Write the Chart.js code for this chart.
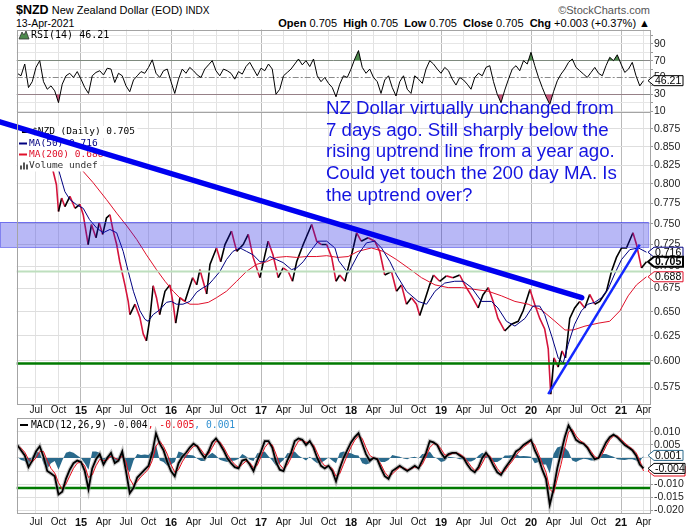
<!DOCTYPE html>
<html>
<head>
<meta charset="utf-8">
<script src="https://cdn.jsdelivr.net/npm/chart.js@4.4.0/dist/chart.umd.min.js"></script>
<style>
  body { margin: 0; background: #fff; width: 700px; height: 530px; position: relative; overflow: hidden;
         font-family: "Liberation Sans", Arial, sans-serif; }
  canvas { position: absolute; left: 0; top: 0; }
  .hdr { position: absolute; white-space: nowrap; color: #000; line-height: 14px; }
  #note { position: absolute; left: 326px; top: 97px; font-size: 18.7px; line-height: 21.7px;
          color: #1414e0; white-space: nowrap; }
</style>
</head>
<body>
<div class="hdr" style="left:16px;top:3px;font-size:11px"><b style="font-size:12.5px">$NZD</b> New Zealand Dollar (EOD) <span style="font-size:10px">INDX</span></div>
<div class="hdr" style="left:16px;top:16px;font-size:10.5px">13-Apr-2021</div>
<div class="hdr" style="right:50px;top:3px;font-size:11px;color:#555">&copy;StockCharts.com</div>
<div class="hdr" style="right:50px;top:16px;font-size:11px"><b>Open</b> 0.705&nbsp; <b>High</b> 0.705&nbsp; <b>Low</b> 0.705&nbsp; <b>Close</b> 0.705&nbsp; <b>Chg</b> +0.003 (+0.37%) &#9650;</div>

<canvas id="rsiChart" width="700" height="530"></canvas>
<canvas id="priceChart" width="700" height="530"></canvas>
<canvas id="macdChart" width="700" height="530"></canvas>

<div id="note"></div>

<script>
// ---------- data ----------
const priceDates = ['2014-04-17','2014-05-15','2014-06-15','2014-07-20','2014-08-15','2014-09-08','2014-09-23','2014-10-01','2014-10-14','2014-10-27',
  '2014-11-17','2014-12-07','2014-12-27','2015-01-10','2015-01-30','2015-02-13','2015-03-01','2015-03-14','2015-03-28','2015-04-13',
  '2015-04-27','2015-05-10','2015-05-24','2015-06-06','2015-06-27','2015-07-10','2015-07-17','2015-08-07','2015-08-27','2015-09-10',
  '2015-09-23','2015-10-07','2015-10-20','2015-11-03','2015-11-16','2015-12-07','2015-12-27','2016-01-10','2016-01-20','2016-02-07',
  '2016-02-27','2016-03-10','2016-03-28','2016-04-14','2016-04-27','2016-05-24','2016-06-07','2016-07-03','2016-07-20','2016-08-07',
  '2016-09-03','2016-09-24','2016-10-20','2016-11-10','2016-11-30','2016-12-27','2017-01-17','2017-01-30','2017-02-19','2017-03-10',
  '2017-03-30','2017-04-20','2017-05-07','2017-05-24','2017-06-20','2017-07-24','2017-08-14','2017-09-03','2017-09-24','2017-10-14',
  '2017-11-01','2017-11-16','2017-12-07','2017-12-20','2018-01-10','2018-01-24','2018-02-12','2018-03-09','2018-04-06','2018-04-26',
  '2018-05-16','2018-06-13','2018-07-03','2018-07-23','2018-08-13','2018-09-03','2018-09-23','2018-10-06','2018-10-26','2018-11-16',
  '2018-12-01','2018-12-26','2019-01-23','2019-02-19','2019-03-16','2019-04-06','2019-05-03','2019-05-30','2019-06-19','2019-07-10',
  '2019-07-30','2019-08-19','2019-09-16','2019-10-13','2019-11-10','2019-11-30','2019-12-27','2020-01-16','2020-02-06','2020-02-26',
  '2020-03-10','2020-03-20','2020-04-03','2020-04-20','2020-05-05','2020-05-19','2020-06-06','2020-06-26','2020-07-16','2020-08-06',
  '2020-08-26','2020-09-16','2020-10-06','2020-11-03','2020-11-23','2020-12-13','2021-01-03','2021-01-23','2021-02-19','2021-03-03',
  '2021-03-23','2021-04-13'];
const priceValues = [0.862,0.858,0.868,0.878,0.840,0.819,0.799,0.765,0.782,0.771,
  0.784,0.769,0.774,0.761,0.725,0.749,0.733,0.751,0.737,0.757,
  0.761,0.741,0.725,0.705,0.679,0.661,0.647,0.658,0.644,0.627,
  0.620,0.644,0.678,0.665,0.647,0.672,0.679,0.658,0.638,0.665,
  0.661,0.672,0.687,0.679,0.696,0.669,0.702,0.721,0.705,0.725,
  0.741,0.717,0.725,0.737,0.710,0.687,0.713,0.729,0.713,0.687,
  0.698,0.694,0.683,0.705,0.725,0.749,0.729,0.725,0.725,0.710,
  0.683,0.690,0.683,0.698,0.721,0.739,0.729,0.733,0.729,0.717,
  0.690,0.694,0.672,0.679,0.658,0.665,0.658,0.646,0.662,0.679,
  0.690,0.683,0.689,0.687,0.690,0.679,0.667,0.654,0.668,0.676,
  0.661,0.643,0.630,0.637,0.640,0.651,0.674,0.658,0.643,0.632,
  0.612,0.5685,0.603,0.594,0.610,0.603,0.643,0.654,0.661,0.654,
  0.6685,0.658,0.661,0.672,0.694,0.710,0.721,0.721,0.739,0.725,
  0.698,0.705];

const ma50Dates = ['2014-06-20','2014-08-20','2014-09-15','2014-10-01','2014-10-27','2014-11-17','2014-12-13','2015-01-10','2015-02-05','2015-03-03',
  '2015-03-30','2015-04-27','2015-05-24','2015-06-20','2015-07-10','2015-07-31','2015-08-27','2015-09-17','2015-09-30','2015-10-20',
  '2015-11-16','2015-12-13','2016-01-03','2016-01-23','2016-02-19','2016-03-17','2016-04-14','2016-05-10','2016-05-31','2016-06-20',
  '2016-07-17','2016-08-13','2016-09-09','2016-10-07','2016-11-03','2016-11-30','2016-12-27','2017-01-17','2017-02-06','2017-03-03',
  '2017-03-30','2017-05-03','2017-05-24','2017-06-20','2017-07-24','2017-08-20','2017-09-24','2017-10-27','2017-11-12','2017-12-20',
  '2018-01-29','2018-03-03','2018-04-06','2018-05-03','2018-06-07','2018-07-03','2018-08-13','2018-09-30','2018-11-03','2018-12-07',
  '2019-01-16','2019-02-26','2019-03-30','2019-05-03','2019-06-13','2019-07-23','2019-08-19','2019-09-23','2019-10-27','2019-12-07',
  '2020-01-09','2020-02-06','2020-02-26','2020-03-25','2020-04-20','2020-05-10','2020-05-30','2020-06-26','2020-07-23','2020-08-19',
  '2020-09-16','2020-10-13','2020-11-09','2020-12-07','2021-01-03','2021-02-06','2021-03-11','2021-04-13'];
const ma50Values = [0.855,0.858,0.835,0.819,0.790,0.780,0.7735,0.769,0.755,0.745,
  0.739,0.743,0.739,0.717,0.694,0.672,0.651,0.642,0.640,0.647,
  0.652,0.660,0.661,0.658,0.658,0.661,0.671,0.676,0.679,0.685,
  0.694,0.7075,0.717,0.721,0.717,0.713,0.705,0.705,0.711,0.7075,
  0.704,0.696,0.698,0.705,0.719,0.729,0.729,0.721,0.706,0.692,
  0.713,0.727,0.729,0.721,0.705,0.690,0.672,0.661,0.658,0.672,
  0.681,0.683,0.683,0.676,0.661,0.661,0.654,0.640,0.635,0.643,
  0.656,0.656,0.647,0.624,0.603,0.598,0.6165,0.637,0.651,0.658,
  0.660,0.665,0.674,0.692,0.7075,0.719,0.721,0.716];

const ma200Dates = ['2014-04-17','2014-07-01','2014-10-01','2015-01-03','2015-02-19','2015-04-13','2015-05-24','2015-07-05','2015-08-14','2015-09-23',
  '2015-11-03','2015-12-07','2016-01-10','2016-02-13','2016-03-17','2016-04-20','2016-05-31','2016-07-03','2016-08-13','2016-09-24',
  '2016-11-03','2016-12-13','2017-01-23','2017-03-03','2017-04-13','2017-05-24','2017-07-03','2017-08-14','2017-09-24','2017-11-09',
  '2017-12-20','2018-01-29','2018-03-23','2018-05-10','2018-07-03','2018-08-20','2018-10-13','2018-12-07','2019-01-30','2019-03-23',
  '2019-05-17','2019-07-10','2019-09-03','2019-10-27','2019-12-20','2020-02-13','2020-04-07','2020-05-17','2020-06-20','2020-08-07',
  '2020-09-30','2020-11-16','2020-12-27','2021-01-30','2021-03-03','2021-04-13'];
const ma200Values = [0.830,0.845,0.838,0.819,0.802,0.780,0.763,0.747,0.731,0.713,
  0.696,0.683,0.672,0.663,0.658,0.658,0.660,0.665,0.672,0.683,
  0.694,0.702,0.705,0.710,0.711,0.710,0.711,0.711,0.712,0.710,
  0.711,0.717,0.721,0.717,0.7075,0.698,0.687,0.679,0.676,0.676,
  0.674,0.672,0.667,0.661,0.658,0.652,0.640,0.631,0.631,0.635,
  0.638,0.640,0.651,0.667,0.679,0.688];

// indicators, one value every half month starting 15-Apr-2014
const rsiValues = [55,52,66,38,45,62,70,45,36,40,
  34,20,42,52,55,50,57,48,38,31,
  52,56,58,53,61,60,44,55,52,40,
  33,47,52,57,55,62,71,55,50,58,
  60,45,31,48,60,55,62,58,53,50,
  60,65,70,58,52,60,58,55,48,57,
  54,63,68,60,52,61,58,66,60,30,
  36,52,56,60,66,72,65,70,63,72,
  52,45,50,43,38,27,42,52,50,60,
  72,82,62,55,60,50,45,31,47,52,
  38,28,45,52,36,31,52,48,43,60,
  70,66,60,55,62,58,48,41,50,47,
  42,36,50,55,52,62,64,45,30,20,
  35,48,60,64,58,70,66,80,64,50,
  38,27,18,33,46,54,60,68,72,62,
  58,54,50,56,62,55,52,64,74,70,
  77,66,56,60,68,52,40,46.21];
const macdValues = [0.005,0.003,0.001,-0.0035,-0.001,0.0025,0.0045,0.0005,-0.005,-0.006,
  -0.007,-0.014,-0.013,-0.008,-0.0045,-0.002,-0.001,-0.0015,-0.005,-0.012,
  -0.004,-0.0005,0.0015,-0.0025,0,0.002,-0.002,-0.001,0.0025,-0.005,
  -0.0135,-0.0115,-0.0075,-0.006,-0.0045,-0.003,0.002,0.0095,0.0055,0.003,
  -0.0015,-0.005,-0.007,-0.002,0.0005,0.002,0.004,0.0055,0.0045,0.002,
  0,0.0025,0.006,0.0075,0.0055,0.003,0,-0.002,-0.0035,-0.004,
  -0.001,-0.0005,-0.0025,-0.005,-0.001,0.0025,0.0065,0.0065,0.004,-0.0015,
  -0.0045,-0.005,-0.001,0.002,0.0065,0.0075,0.007,0.005,0.0065,0.004,
  0,-0.003,-0.004,-0.003,-0.005,-0.009,-0.004,0,0.003,0.006,
  0.008,0.0095,0.0055,0.0015,-0.001,0,-0.0005,-0.004,-0.007,-0.008,
  -0.005,-0.004,-0.003,-0.004,-0.005,-0.004,-0.003,-0.004,-0.001,0.002,
  0.0065,0.006,0.005,0.002,0,0.0015,0.002,0.002,0.001,0,
  -0.0025,-0.0045,-0.0055,-0.0035,0,0.002,0,-0.003,-0.0055,-0.0065,
  -0.004,-0.002,0,0.0025,0.0035,0.005,0.006,0.007,0.003,0,
  -0.0045,-0.008,-0.018,-0.012,-0.004,0.002,0.008,0.0125,0.010,0.007,
  0.006,0.0055,0.004,0.0015,-0.0005,0,0.003,0.006,0.008,0.009,
  0.008,0.0065,0.005,0.004,0.003,0.001,-0.0025,-0.004];
const signalValues = [0.0045,0.0038,0.0022,-0.0005,-0.0015,0,0.0025,0.0025,-0.001,-0.004,
  -0.0058,-0.0095,-0.012,-0.010,-0.007,-0.004,-0.002,-0.0015,-0.003,-0.0075,
  -0.0065,-0.003,-0.0005,-0.001,-0.0008,0.0008,0,-0.0008,0.0008,-0.0015,
  -0.008,-0.0105,-0.009,-0.0072,-0.0058,-0.0042,-0.001,0.0045,0.0065,0.0045,
  0.0015,-0.0025,-0.0055,-0.0045,-0.0015,0.0008,0.0028,0.0045,0.0048,0.0032,
  0.0012,0.0015,0.004,0.0065,0.0062,0.0042,0.0015,-0.0008,-0.0025,-0.0036,
  -0.0025,-0.0012,-0.0018,-0.0038,-0.0028,0.0005,0.004,0.0058,0.005,0.0015,
  -0.0025,-0.0042,-0.0028,0,0.004,0.0065,0.007,0.006,0.006,0.005,
  0.002,-0.0012,-0.003,-0.0032,-0.004,-0.007,-0.006,-0.0025,0.001,0.0042,
  0.0068,0.0085,0.0075,0.004,0.001,0,-0.0002,-0.0025,-0.0055,-0.0072,
  -0.0062,-0.0048,-0.0035,-0.0038,-0.0045,-0.0042,-0.0035,-0.0038,-0.0025,0.0005,
  0.004,0.0055,0.0053,0.0035,0.0012,0.001,0.0017,0.002,0.0015,0.0005,
  -0.0012,-0.0032,-0.0048,-0.0045,-0.002,0.0008,0.0008,-0.0015,-0.004,-0.0058,
  -0.005,-0.003,-0.0012,0.001,0.0028,0.0042,0.0053,0.0065,0.005,0.0015,
  -0.002,-0.0055,-0.012,-0.0135,-0.008,-0.0025,0.004,0.010,0.011,0.0085,
  0.0068,0.0058,0.0045,0.0025,0.0005,-0.0002,0.0015,0.0045,0.007,0.0085,
  0.0085,0.0072,0.0058,0.0045,0.0035,0.002,-0.001,-0.005];
const histValues = [0.0005,-0.0008,-0.0012,-0.003,0.0005,0.0025,0.002,-0.002,-0.004,-0.002,
  -0.0012,-0.0045,-0.001,0.002,0.0025,0.002,0.001,0,-0.002,-0.0045,
  0.0025,0.0025,0.002,-0.0015,0.0008,0.0012,-0.002,-0.0002,0.0017,-0.0035,
  -0.0055,-0.001,0.0015,0.0012,0.0013,0.0012,0.003,0.005,-0.001,-0.0015,
  -0.003,-0.0025,-0.0015,0.0025,0.002,0.0012,0.0012,0.001,-0.0003,-0.0012,
  -0.0012,0.001,0.002,0.001,-0.0007,-0.0012,-0.0015,-0.0012,-0.001,-0.0004,
  0.0015,0.0007,-0.0007,-0.0012,0.0018,0.002,0.0025,0.0007,-0.001,-0.003,
  -0.002,-0.0008,0.0018,0.002,0.0025,0.001,0,-0.001,0.0005,-0.001,
  -0.002,-0.0018,-0.001,0.0002,-0.001,-0.002,0.002,0.0025,0.002,0.0018,
  0.0012,0.001,-0.002,-0.0025,-0.002,0,-0.0003,-0.0015,-0.0015,-0.0008,
  0.0012,0.0008,0.0005,-0.0002,-0.0005,0.0002,0.0005,-0.0002,0.0015,0.0015,
  0.0025,0.0005,-0.0003,-0.0015,-0.0012,0.0005,0.0003,0,-0.0005,-0.0005,
  -0.0013,-0.0013,-0.0007,0.001,0.002,0.0012,-0.0008,-0.0015,-0.0015,-0.0007,
  0.001,0.001,0.0012,0.0015,0.0007,0.0008,0.0007,0.0005,-0.002,-0.0015,
  -0.0025,-0.0025,-0.006,0.0015,0.004,0.0045,0.004,0.0025,-0.001,-0.0015,
  -0.0008,-0.0003,-0.0005,-0.001,-0.001,0.0002,0.0015,0.0015,0.001,0.0005,
  -0.0005,-0.0007,-0.0008,-0.0005,-0.0005,-0.001,-0.0015,0.001];

// annotations drawn on the price panel
const downTrendDates = ['2014-02-06','2020-07-24'];
const downTrendValues = [0.885, 0.665];
const upTrendDates = ['2020-03-10','2021-03-16'];
const upTrendValues = [0.5685, 0.725];
const bandDates = ['2014-02-06','2021-04-20'];
const bandRange = [0.722, 0.752];
const supportLevel = 0.5975;
const refLevel = 0.694;
const macdLimitLevel = -0.0115;

const priceTicks = [0.575,0.6,0.625,0.65,0.675,0.7,0.725,0.75,0.775,0.8,0.825,0.85,0.875];
const rsiTicks = [10,20,30,40,50,60,70,80,90,100];
const macdTicks = [-0.02,-0.015,-0.01,-0.005,0,0.005,0.01];
const noteLines = ['NZ Dollar virtually unchanged from','7 days ago. Still sharply below the',
  'rising uptrend line from a year ago.','Could yet touch the 200 day MA. Is','the uptrend over?'];

document.getElementById('note').innerHTML = noteLines.join('<br>');

// ---------- helpers ----------
const FONT = '"Liberation Sans", Arial, sans-serif';
const MONO = '"DejaVu Sans Mono", monospace';
const X_MIN = 2014.2856, X_MAX = 2021.322;
const toYear = s => { const [y, m, d] = s.split('-').map(Number); return y + (m - 1) / 12 + (d - 1) / 365; };
const slotYear = i => 2014 + 3.5 / 12 + i / 24;
const pts = (dates, vals) => dates.map((d, i) => ({ x: toYear(d), y: vals[i] }));
const slotPts = vals => vals.map((v, i) => ({ x: slotYear(i), y: v }));

const quarterTicks = [];
for (let y = 2014; y <= 2021; y++) {
  for (const m of [0, 3, 6, 9]) {
    const t = y + m / 12;
    if (t > X_MIN && t < X_MAX) quarterTicks.push(t);
  }
}
const isYear = v => Math.abs(v - Math.round(v)) < 1e-6;
function tickLabel(v) {
  if (isYear(v)) return String(Math.round(v)).slice(2);
  const m = Math.round((v - Math.floor(v)) * 12);
  return { 3: 'Apr', 6: 'Jul', 9: 'Oct' }[m];
}

function xAxis(showLabels, height, pad) {
  return {
    type: 'linear', min: X_MIN, max: X_MAX,
    afterBuildTicks: s => { s.ticks = quarterTicks.map(v => ({ value: v })); },
    afterFit: s => { s.height = height; },
    border: { display: false },
    grid: { drawTicks: false, color: c => (c.tick && isYear(c.tick.value)) ? '#b9b9b9' : '#e2e2e2' },
    ticks: {
      display: showLabels, autoSkip: false, maxRotation: 0, minRotation: 0, padding: pad, color: '#111',
      font: c => (c.tick && isYear(c.tick.value)) ? { family: FONT, size: 11, weight: 'bold' } : { family: FONT, size: 10 },
      callback: v => tickLabel(v)
    }
  };
}
function yAxis(extra, ticks, fmt, gridColor) {
  return Object.assign({
    position: 'right',
    afterFit: s => { s.width = 50; },
    afterBuildTicks: s => { s.ticks = ticks.map(v => ({ value: v })); },
    border: { display: false },
    grid: { color: gridColor || '#dedede', tickLength: 3, tickColor: '#9a9a9a' },
    ticks: { autoSkip: false, padding: 1, color: '#222', font: { family: FONT, size: 10.5 }, callback: fmt }
  }, extra);
}
function frame(ctx, a) {
  ctx.save();
  ctx.strokeStyle = '#a4a4a4';
  ctx.lineWidth = 1;
  ctx.strokeRect(Math.round(a.left) + 0.5, Math.round(a.top) + 0.5, Math.round(a.right - a.left), Math.round(a.bottom - a.top));
  ctx.restore();
}
function tag(ctx, y, text, border, lw, bold, right) {
  const x0 = 648, x1 = 654, x2 = right || 683, h = 5;
  ctx.save();
  ctx.beginPath();
  ctx.moveTo(x0, y); ctx.lineTo(x1, y - h); ctx.lineTo(x2, y - h); ctx.lineTo(x2, y + h); ctx.lineTo(x1, y + h); ctx.closePath();
  ctx.fillStyle = '#fff'; ctx.fill();
  ctx.lineWidth = lw; ctx.strokeStyle = border; ctx.stroke();
  ctx.fillStyle = '#000';
  ctx.font = (bold ? 'bold ' : '') + '10.5px ' + FONT;
  ctx.textBaseline = 'middle';
  ctx.fillText(text, x1 + 1, y + 0.5);
  ctx.restore();
}
function hline(ctx, x0, x1, y) { ctx.beginPath(); ctx.moveTo(x0, y); ctx.lineTo(x1, y); ctx.stroke(); }

const common = {
  responsive: false, animation: false, devicePixelRatio: 1, events: [],
  plugins: { legend: { display: false }, tooltip: { enabled: false } },
  elements: { point: { radius: 0 }, line: { tension: 0 } }
};

// ---------- RSI panel ----------
new Chart(document.getElementById('rsiChart'), {
  type: 'line',
  data: { datasets: [
    { data: slotPts(rsiValues), borderColor: '#000', borderWidth: 1,
      fill: { target: { value: 70 }, above: '#4d8a4d', below: 'rgba(0,0,0,0)' } },
    { data: slotPts(rsiValues), borderWidth: 0, borderColor: 'rgba(0,0,0,0)',
      fill: { target: { value: 30 }, above: 'rgba(0,0,0,0)', below: '#c8587c' } }
  ] },
  options: Object.assign({}, common, {
    layout: { padding: { left: 16.7, right: 0, top: 29.5, bottom: 530 - 111.5 } },
    scales: {
      x: xAxis(false, 0, 0),
      y: yAxis({ min: 9.5, max: 107.1 }, rsiTicks, v => (v % 20 === 10 ? String(v) : ''),
        c => (c.tick && (c.tick.value === 70 || c.tick.value === 30)) ? '#8a8a8a' : (c.tick && c.tick.value === 50 ? 'rgba(0,0,0,0)' : '#e6e6e6'))
    }
  }),
  plugins: [{
    id: 'rsiDecor',
    beforeDatasetsDraw(chart) {
      const { ctx, chartArea: a, scales: { y } } = chart;
      ctx.save();
      ctx.strokeStyle = '#8a8a8a'; ctx.lineWidth = 1; ctx.setLineDash([6, 2, 2, 2]);
      hline(ctx, a.left, a.right, Math.round(y.getPixelForValue(50)) + 0.5);
      ctx.restore();
    },
    afterDraw(chart) {
      const { ctx, chartArea: a, scales: { y } } = chart;
      frame(ctx, a);
      ctx.save();
      ctx.beginPath();
      ctx.moveTo(19, 39); ctx.lineTo(22, 32); ctx.lineTo(24, 35); ctx.lineTo(26, 31); ctx.lineTo(29, 39); ctx.closePath();
      ctx.fillStyle = '#4d8a4d'; ctx.fill(); ctx.strokeStyle = '#333'; ctx.lineWidth = 0.8; ctx.stroke();
      ctx.fillStyle = '#000'; ctx.font = '10px ' + MONO; ctx.textBaseline = 'middle';
      ctx.fillText('RSI(14) ' + rsiValues[rsiValues.length - 1].toFixed(2), 31, 35);
      ctx.restore();
      tag(ctx, y.getPixelForValue(rsiValues[rsiValues.length - 1]), rsiValues[rsiValues.length - 1].toFixed(2), '#000', 1, false);
    }
  }]
});

// ---------- price panel ----------
const lastPrice = priceValues[priceValues.length - 1];
const lastMa50 = ma50Values[ma50Values.length - 1];
const lastMa200 = ma200Values[ma200Values.length - 1];
new Chart(document.getElementById('priceChart'), {
  type: 'line',
  data: { datasets: [
    { data: pts(downTrendDates, downTrendValues), borderColor: '#0000f0', borderWidth: 5.5, clip: false, borderCapStyle: 'round' },
    { data: pts(upTrendDates, upTrendValues), borderColor: '#1428ff', borderWidth: 2.5 },
    { data: pts(ma50Dates, ma50Values), borderColor: '#000080', borderWidth: 1 },
    { data: pts(ma200Dates, ma200Values), borderColor: '#e0102a', borderWidth: 1 },
    { data: pts(priceDates, priceValues), borderWidth: 1.6, borderColor: '#d4143c',
      segment: { borderColor: c => c.p1.parsed.y >= c.p0.parsed.y ? '#000' : '#d4143c' } }
  ] },
  options: Object.assign({}, common, {
    layout: { padding: { left: 16.7, right: 0, top: 111.5, bottom: 530 - 403 - 15 } },
    scales: {
      x: xAxis(true, 15, 1),
      y: yAxis({ type: 'logarithmic', min: 0.5604, max: 0.9 }, priceTicks, v => Number(v).toFixed(3))
    }
  }),
  plugins: [{
    id: 'priceDecor',
    beforeDatasetDraw(chart, args) {
      if (args.index !== 1) return;
      const { ctx, chartArea: a, scales: { x, y } } = chart;
      ctx.save();
      // reference and support lines
      ctx.lineWidth = 2; ctx.strokeStyle = '#bedfbe';
      hline(ctx, a.left, a.right, y.getPixelForValue(refLevel));
      ctx.lineWidth = 2.5; ctx.strokeStyle = '#007a00';
      hline(ctx, a.left, a.right, y.getPixelForValue(supportLevel));
      // resistance band
      const bx0 = x.getPixelForValue(toYear(bandDates[0])), bx1 = x.getPixelForValue(toYear(bandDates[1]));
      const by0 = y.getPixelForValue(bandRange[1]), by1 = y.getPixelForValue(bandRange[0]);
      ctx.fillStyle = 'rgba(20,20,225,0.30)';
      ctx.fillRect(bx0, by0, bx1 - bx0, by1 - by0);
      ctx.strokeStyle = 'rgba(60,60,230,0.6)'; ctx.lineWidth = 1;
      ctx.strokeRect(bx0 + 0.5, Math.round(by0) + 0.5, bx1 - bx0, Math.round(by1 - by0));
      // legend
      const rows = [
        { text: '$NZD (Daily) ' + lastPrice.toFixed(3), color: '#000', icon: '#000', y: 132, x: 32 },
        { text: 'MA(50) ' + lastMa50.toFixed(3), color: '#000080', icon: '#000080', y: 143.5, x: 29 },
        { text: 'MA(200) ' + lastMa200.toFixed(3), color: '#e0102a', icon: '#e0102a', y: 154.5, x: 29 },
        { text: 'Volume undef', color: '#333', icon: null, y: 165.5, x: 29 }
      ];
      ctx.font = '9.5px ' + MONO; ctx.textBaseline = 'middle';
      rows.forEach(r => {
        const w = ctx.measureText(r.text).width;
        ctx.fillStyle = '#fff';
        ctx.fillRect(a.left + 0.5, r.y - 6, r.x - a.left + w + 2, 12);
      });
      rows.forEach(r => {
        if (r.icon) {
          ctx.strokeStyle = r.icon; ctx.lineWidth = 2;
          hline(ctx, r.x - 10, r.x - 2, r.y);
        } else {
          ctx.fillStyle = '#555';
          [[20, 4], [23, 7], [26, 5]].forEach(([bx, bh]) => ctx.fillRect(bx, r.y + 4 - bh, 2, bh));
        }
        ctx.fillStyle = r.color;
        ctx.fillText(r.text, r.x, r.y);
      });
      ctx.restore();
    },
    afterDraw(chart) {
      const { ctx, chartArea: a, scales: { y } } = chart;
      frame(ctx, a);
      tag(ctx, y.getPixelForValue(lastMa50), lastMa50.toFixed(3), '#000080', 1, false);
      tag(ctx, y.getPixelForValue(lastPrice), lastPrice.toFixed(3), '#000', 2, true);
      tag(ctx, y.getPixelForValue(lastMa200), lastMa200.toFixed(3), '#e0102a', 1, false);
    }
  }]
});

// ---------- MACD panel ----------
new Chart(document.getElementById('macdChart'), {
  type: 'line',
  data: { datasets: [
    { data: slotPts(macdValues), borderColor: '#000', borderWidth: 1.8 },
    { data: slotPts(signalValues), borderColor: '#e8101e', borderWidth: 1 },
    { data: slotPts(macdValues), borderColor: 'rgba(150,150,150,0.55)', borderWidth: 4 },
    { data: slotPts(histValues), borderColor: 'rgba(0,0,0,0)', borderWidth: 0, backgroundColor: 'rgb(42,106,140)', fill: 'origin' }
  ] },
  options: Object.assign({}, common, {
    layout: { padding: { left: 16.7, right: 0, top: 418, bottom: 530 - 513 - 15 } },
    scales: {
      x: xAxis(true, 15, 3),
      y: yAxis({ min: -0.02115, max: 0.01538 }, macdTicks, v => Number(v).toFixed(3))
    }
  }),
  plugins: [{
    id: 'macdDecor',
    beforeDatasetsDraw(chart) {
      const { ctx, chartArea: a, scales: { y } } = chart;
      ctx.save();
      ctx.lineWidth = 2.5; ctx.strokeStyle = '#007a00';
      hline(ctx, a.left, a.right, y.getPixelForValue(macdLimitLevel));
      ctx.restore();
    },
    afterDraw(chart) {
      const { ctx, chartArea: a, scales: { y } } = chart;
      frame(ctx, a);
      const m = macdValues[macdValues.length - 1], s = signalValues[signalValues.length - 1], h = histValues[histValues.length - 1];
      ctx.save();
      ctx.strokeStyle = '#000'; ctx.lineWidth = 2;
      hline(ctx, 20, 28, 425);
      ctx.font = '9.7px ' + MONO; ctx.textBaseline = 'middle';
      const parts = [['MACD(12,26,9) ' + m.toFixed(3), '#000'], [', ' + s.toFixed(3), '#e8101e'], [', ' + h.toFixed(3), '#2f8fd0']];
      let tx = 31;
      parts.forEach(([t, c]) => { ctx.fillStyle = c; ctx.fillText(t, tx, 425); tx += ctx.measureText(t).width; });
      ctx.restore();
      tag(ctx, y.getPixelForValue(s), s.toFixed(3), '#e8101e', 1, false, 685);
      tag(ctx, y.getPixelForValue(h), h.toFixed(3), 'rgb(42,106,140)', 1, false);
      tag(ctx, y.getPixelForValue(m), m.toFixed(3), '#000', 1, false, 685);
    }
  }]
});
</script>
</body>
</html>
